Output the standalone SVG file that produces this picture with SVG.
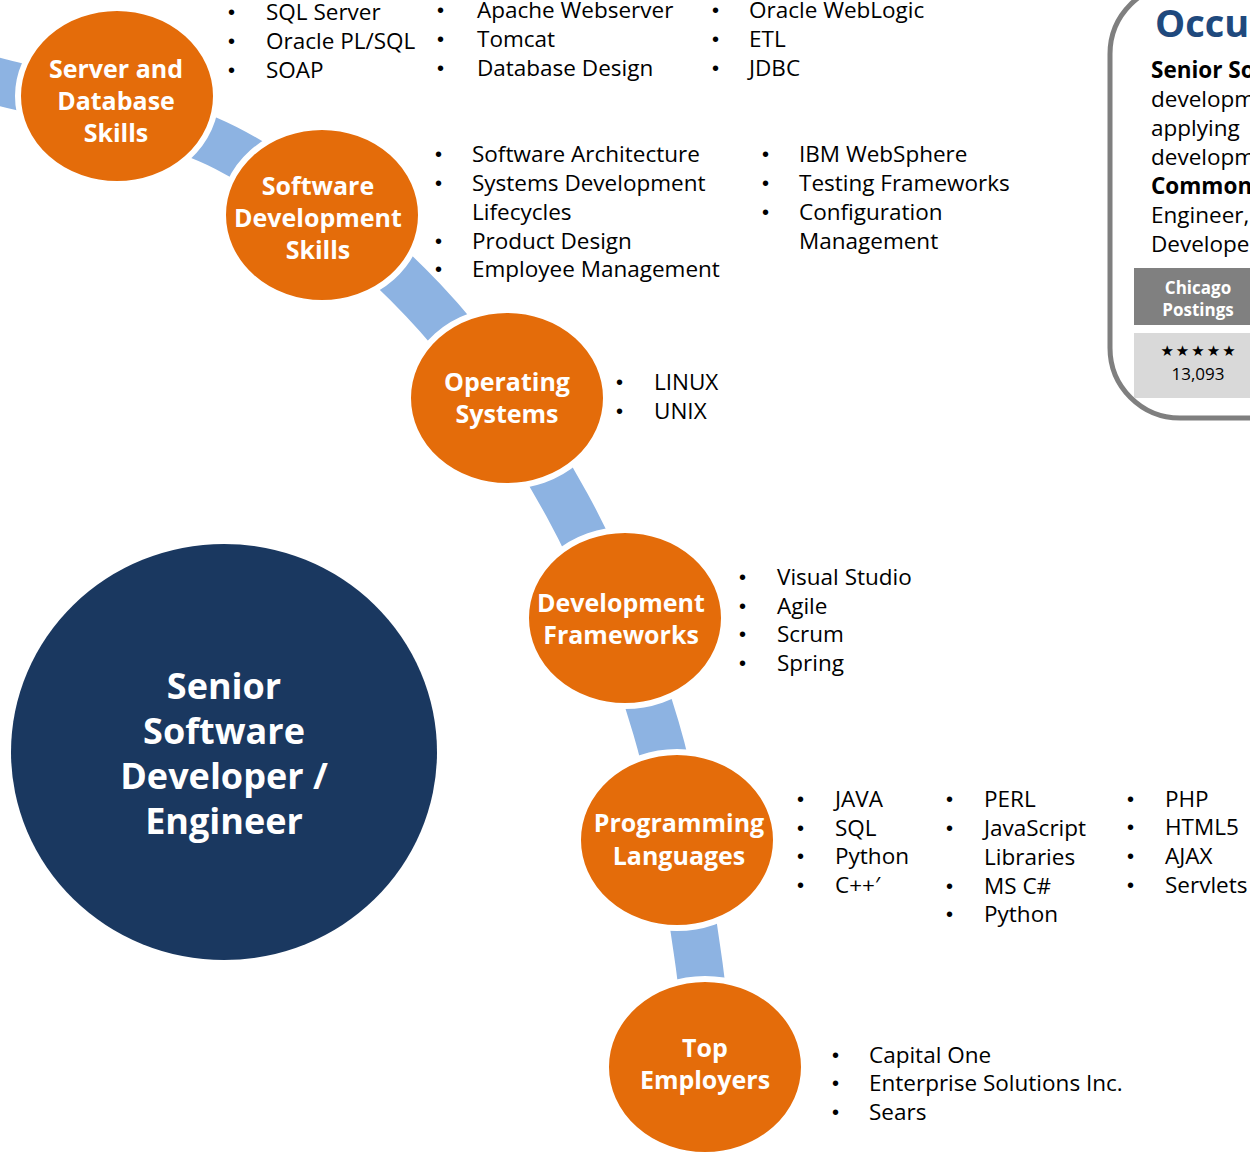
<svg xmlns="http://www.w3.org/2000/svg" width="1250" height="1153" viewBox="0 0 1250 1153">
<style>
.node{fill:#E46C0A;stroke:#FFFFFF;stroke-width:6}
.lbl{font-family:"Open Sans","Noto Sans",sans-serif;font-weight:bold;font-size:25px;fill:#FFFFFF;text-anchor:middle}
.big{font-family:"Open Sans","Noto Sans",sans-serif;font-weight:bold;font-size:36px;fill:#FFFFFF;text-anchor:middle}
.li{font-family:"Open Sans","Noto Sans",sans-serif;font-size:22.5px;fill:#000000}
.bl{font-family:"Liberation Sans",sans-serif;font-size:20px;fill:#000000}
.bx{font-family:"Open Sans","Noto Sans",sans-serif;font-size:22.5px;fill:#000000}
.bxb{font-family:"Open Sans","Noto Sans",sans-serif;font-size:22.5px;font-weight:bold;fill:#000000}
.band{fill:none;stroke:#8DB3E2;stroke-width:47}
</style>
<rect x="0" y="0" width="1250" height="1153" fill="#FFFFFF"/>
<g id="connectors">
<path class="band" d="M -40,72 L 0,82 C 44,94 155,112 226,148 C 296,184 366,240 423,300 C 480,360 528,434 567,505 C 606,576 634,654 656,728 C 678,802 688,891 697,950 C 706,1009 706,1037 710,1080"/>
</g>
<g id="node-main">
<ellipse cx="224" cy="752" rx="213" ry="208" fill="#1A3860"/>
<text class="big" x="224" y="699">Senior</text>
<text class="big" x="224" y="744">Software</text>
<text class="big" x="224" y="789">Developer /</text>
<text class="big" x="224" y="834">Engineer</text>
</g>
<g id="node-server">
<ellipse class="node" cx="117" cy="96" rx="99" ry="88"/>
<text class="lbl" x="116" y="78">Server and</text>
<text class="lbl" x="116" y="110">Database</text>
<text class="lbl" x="116" y="142">Skills</text>
</g>
<g id="node-software">
<ellipse class="node" cx="322" cy="215" rx="99" ry="88"/>
<text class="lbl" x="318" y="195">Software</text>
<text class="lbl" x="318" y="227">Development</text>
<text class="lbl" x="318" y="259">Skills</text>
</g>
<g id="node-os">
<ellipse class="node" cx="507" cy="398" rx="99" ry="88"/>
<text class="lbl" x="507" y="391">Operating</text>
<text class="lbl" x="507" y="423">Systems</text>
</g>
<g id="node-frameworks">
<ellipse class="node" cx="625" cy="618" rx="99" ry="88"/>
<text class="lbl" x="621" y="612">Development</text>
<text class="lbl" x="621" y="644">Frameworks</text>
</g>
<g id="node-languages">
<ellipse class="node" cx="677" cy="840" rx="99" ry="88"/>
<text class="lbl" x="679" y="832">Programming</text>
<text class="lbl" x="679" y="865">Languages</text>
</g>
<g id="node-employers">
<ellipse class="node" cx="705" cy="1067" rx="99" ry="88"/>
<text class="lbl" x="705" y="1057">Top</text>
<text class="lbl" x="705" y="1089">Employers</text>
</g>
<g id="list-server">
<text class="bl" x="228" y="19">•</text><text class="li" x="266" y="20">SQL Server</text>
<text class="bl" x="228" y="48">•</text><text class="li" x="266" y="49">Oracle PL/SQL</text>
<text class="bl" x="228" y="77">•</text><text class="li" x="266" y="78">SOAP</text>
<text class="bl" x="437" y="17">•</text><text class="li" x="477" y="18">Apache Webserver</text>
<text class="bl" x="437" y="46">•</text><text class="li" x="477" y="47">Tomcat</text>
<text class="bl" x="437" y="75">•</text><text class="li" x="477" y="76">Database Design</text>
<text class="bl" x="712" y="17">•</text><text class="li" x="749" y="18">Oracle WebLogic</text>
<text class="bl" x="712" y="46">•</text><text class="li" x="749" y="47">ETL</text>
<text class="bl" x="712" y="75">•</text><text class="li" x="749" y="76">JDBC</text>
</g>
<g id="list-software">
<text class="bl" x="435" y="161">•</text><text class="li" x="472" y="162">Software Architecture</text>
<text class="bl" x="435" y="190">•</text><text class="li" x="472" y="191">Systems Development</text>
<text class="li" x="472" y="220">Lifecycles</text>
<text class="bl" x="435" y="248">•</text><text class="li" x="472" y="249">Product Design</text>
<text class="bl" x="435" y="276">•</text><text class="li" x="472" y="277">Employee Management</text>
<text class="bl" x="762" y="161">•</text><text class="li" x="799" y="162">IBM WebSphere</text>
<text class="bl" x="762" y="190">•</text><text class="li" x="799" y="191">Testing Frameworks</text>
<text class="bl" x="762" y="219">•</text><text class="li" x="799" y="220">Configuration</text>
<text class="li" x="799" y="249">Management</text>
</g>
<g id="list-os">
<text class="bl" x="616" y="389">•</text><text class="li" x="654" y="390">LINUX</text>
<text class="bl" x="616" y="418">•</text><text class="li" x="654" y="419">UNIX</text>
</g>
<g id="list-frameworks">
<text class="bl" x="739" y="584">•</text><text class="li" x="777" y="585">Visual Studio</text>
<text class="bl" x="739" y="613">•</text><text class="li" x="777" y="614">Agile</text>
<text class="bl" x="739" y="641">•</text><text class="li" x="777" y="642">Scrum</text>
<text class="bl" x="739" y="670">•</text><text class="li" x="777" y="671">Spring</text>
</g>
<g id="list-languages">
<text class="bl" x="797" y="806">•</text><text class="li" x="835" y="807">JAVA</text>
<text class="bl" x="797" y="835">•</text><text class="li" x="835" y="836">SQL</text>
<text class="bl" x="797" y="863">•</text><text class="li" x="835" y="864">Python</text>
<text class="bl" x="797" y="892">•</text><text class="li" x="835" y="893">C++′</text>
<text class="bl" x="946" y="806">•</text><text class="li" x="984" y="807">PERL</text>
<text class="bl" x="946" y="835">•</text><text class="li" x="984" y="836">JavaScript</text>
<text class="li" x="984" y="865">Libraries</text>
<text class="bl" x="946" y="893">•</text><text class="li" x="984" y="894">MS C#</text>
<text class="bl" x="946" y="921">•</text><text class="li" x="984" y="922">Python</text>
<text class="bl" x="1127" y="806">•</text><text class="li" x="1165" y="807">PHP</text>
<text class="bl" x="1127" y="834">•</text><text class="li" x="1165" y="835">HTML5</text>
<text class="bl" x="1127" y="863">•</text><text class="li" x="1165" y="864">AJAX</text>
<text class="bl" x="1127" y="892">•</text><text class="li" x="1165" y="893">Servlets</text>
</g>
<g id="list-employers">
<text class="bl" x="832" y="1062">•</text><text class="li" x="869" y="1063">Capital One</text>
<text class="bl" x="832" y="1090">•</text><text class="li" x="869" y="1091">Enterprise Solutions Inc.</text>
<text class="bl" x="832" y="1119">•</text><text class="li" x="869" y="1120">Sears</text>
</g>
<g id="occupation-box">
<rect x="1110" y="-16" width="230" height="434" rx="70" ry="70" fill="#FFFFFF" stroke="#7F7F7F" stroke-width="5"/>
<text x="1155" y="37" font-family="Open Sans, Noto Sans, sans-serif" font-weight="bold" font-size="38" fill="#1F497D">Occu</text>
<text class="bxb" x="1151" y="78">Senior So</text>
<text class="bx" x="1151" y="107">developm</text>
<text class="bx" x="1151" y="136">applying</text>
<text class="bx" x="1151" y="165">developm</text>
<text class="bxb" x="1151" y="194">Common</text>
<text class="bx" x="1151" y="223">Engineer,</text>
<text class="bx" x="1151" y="252">Develope</text>
<rect x="1134" y="268" width="130" height="57" fill="#808080"/>
<text x="1198" y="294" font-family="Open Sans, Noto Sans, sans-serif" font-weight="bold" font-size="17" fill="#FFFFFF" text-anchor="middle">Chicago</text>
<text x="1198" y="316" font-family="Open Sans, Noto Sans, sans-serif" font-weight="bold" font-size="17" fill="#FFFFFF" text-anchor="middle">Postings</text>
<rect x="1134" y="333" width="130" height="65" fill="#D9D9D9"/>
<text x="1199" y="356" font-family="DejaVu Sans, sans-serif" font-size="15" fill="#000000" text-anchor="middle" letter-spacing="2">★★★★★</text>
<text x="1198" y="380" font-family="Open Sans, Noto Sans, sans-serif" font-size="17" fill="#000000" text-anchor="middle">13,093</text>
</g>
</svg>
